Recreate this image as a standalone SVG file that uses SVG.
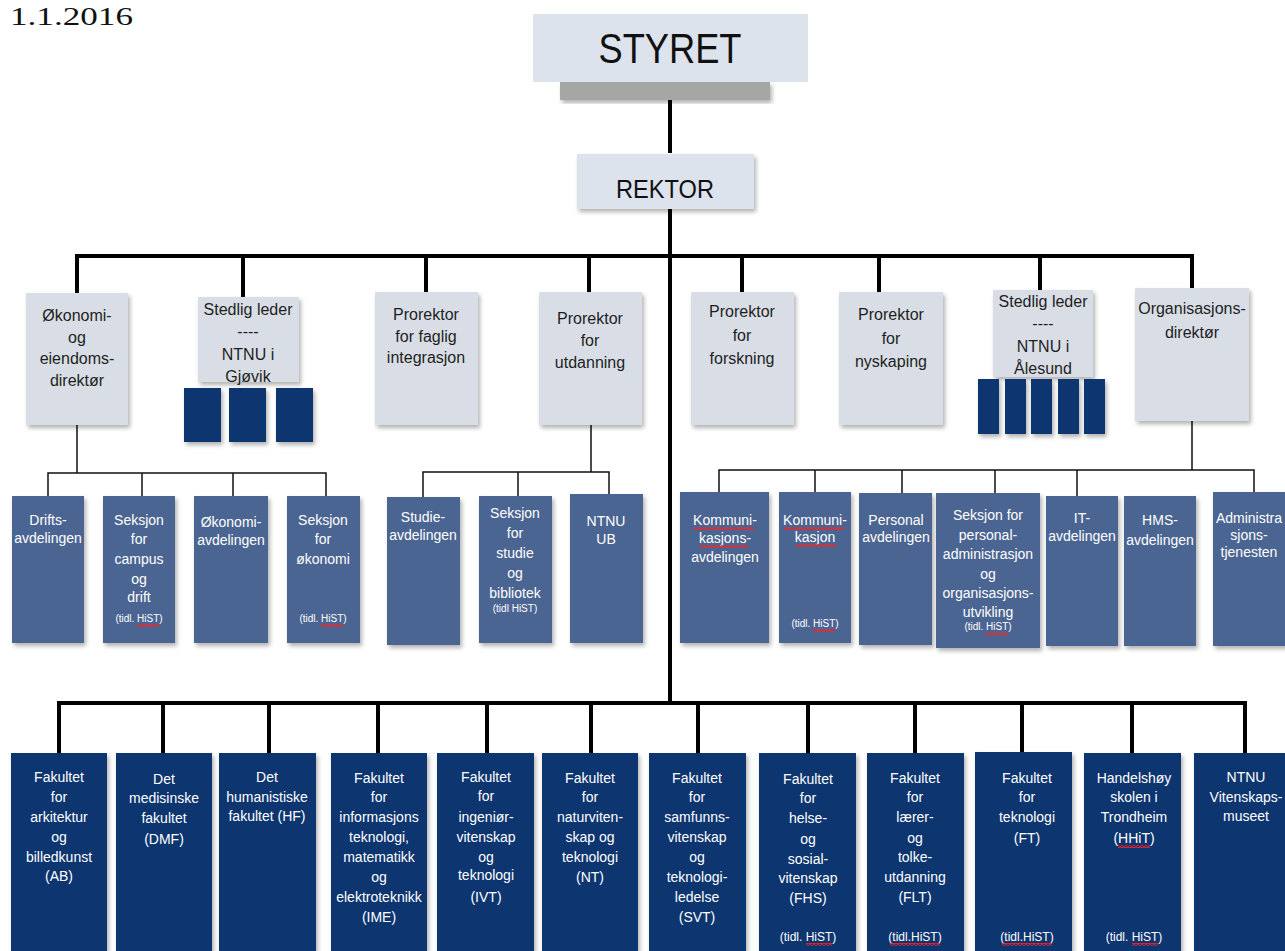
<svg xmlns="http://www.w3.org/2000/svg" width="1285" height="951" viewBox="0 0 1285 951">
<defs>
<filter id="sh" x="-10%" y="-10%" width="130%" height="130%"><feDropShadow dx="2" dy="3" stdDeviation="2" flood-color="#000" flood-opacity="0.3"/></filter>
<pattern id="sq" width="4" height="3" patternUnits="userSpaceOnUse"><path d="M0,0.5 L2,2.5 L4,0.5" fill="none" stroke="#ff2020" stroke-width="1.2"/></pattern>
</defs>
<style>
text{font-family:"Liberation Sans",Arial,sans-serif;text-anchor:middle}
.top{fill:#dce3ed;filter:url(#sh)}
.l2{fill:#d9dee6;filter:url(#sh)}
.l3{fill:#4b6592;filter:url(#sh)}
.fac{fill:#0f3470;filter:url(#sh)}
.sm{fill:#0f3470;filter:url(#sh)}
.t2{font-size:16px;fill:#1e1e1e}
.t3{font-size:14px;fill:#fff}
.t3s{font-size:10px;fill:#fff}
.tb{font-size:14px;fill:#fff}
.tbs{font-size:12px;fill:#fff}
.thick{stroke:#000;stroke-width:4;fill:none}
.thin{stroke:#111;stroke-width:1.5;fill:none}
.sq{fill:url(#sq)}
</style>
<rect width="1285" height="951" fill="#fff"/>
<text x="10" y="25" style="font-family:'Liberation Serif',serif;font-size:26px;text-anchor:start;fill:#111" textLength="123" lengthAdjust="spacingAndGlyphs">1.1.2016</text>

<g id="connectors">
<path class="thick" d="M670,100 V153 M670,209 V703"/>
<path class="thick" d="M77,293 V256 H1192 V288 M243,256 V297 M426,256 V292 M589,256 V292 M742,256 V292 M879,256 V292 M1040,256 V290"/>
<path class="thin" d="M77,425 V473 M48,496 V473 H326 V496 M142,473 V496 M233,473 V496"/>
<path class="thin" d="M591,425 V472 M423,497 V472 H609 V494 M518,472 V496"/>
<path class="thin" d="M1192,421 V470 M719,492 V470 H1254 V492 M815,470 V492 M902,470 V493 M995,470 V493 M1077,470 V496"/>
<path class="thick" d="M59,753 V703 H1245 V753 M163,703 V753 M269,703 V753 M378,703 V753 M487,703 V753 M591,703 V753 M698,703 V753 M808,703 V753 M915,703 V753 M1022,703 V753 M1132,703 V753"/>
</g>

<g id="styret">
<rect x="560" y="82" width="210" height="18" fill="#a6a6a6" filter="url(#sh)"/>
<rect class="top" x="533" y="14" width="275" height="68" style="filter:none"/>
<text x="670" y="63" style="font-size:42px;fill:#111" textLength="143" lengthAdjust="spacingAndGlyphs">STYRET</text>
</g>
<g id="rektor">
<rect class="top" x="577" y="154" width="177" height="55"/>
<text x="665" y="198" style="font-size:25px;fill:#111" textLength="98" lengthAdjust="spacingAndGlyphs">REKTOR</text>
</g>

<g id="okonomidirektor">
<rect class="l2" x="26" y="293" width="102" height="132"/>
<text class="t2" x="77" y="321">Økonomi-</text><text class="t2" x="77" y="343">og</text><text class="t2" x="77" y="364">eiendoms-</text><text class="t2" x="77" y="386">direktør</text>
</g>
<g id="gjovik">
<rect class="l2" x="198" y="297" width="101" height="85"/>
<text class="t2" x="248" y="315">Stedlig leder</text><text class="t2" x="248" y="337">----</text><text class="t2" x="248" y="360">NTNU i</text><text class="t2" x="248" y="382">Gjøvik</text>
<rect class="sm" x="184" y="388" width="37" height="54"/><rect class="sm" x="229" y="388" width="37" height="54"/><rect class="sm" x="276" y="388" width="37" height="54"/>
</g>
<g id="faglig">
<rect class="l2" x="375" y="292" width="103" height="133"/>
<text class="t2" x="426" y="320">Prorektor</text><text class="t2" x="426" y="342">for faglig</text><text class="t2" x="426" y="363">integrasjon</text>
</g>
<g id="utdanning">
<rect class="l2" x="539" y="292" width="103" height="133"/>
<text class="t2" x="590" y="324">Prorektor</text><text class="t2" x="590" y="346">for</text><text class="t2" x="590" y="368">utdanning</text>
</g>
<g id="forskning">
<rect class="l2" x="691" y="292" width="103" height="133"/>
<text class="t2" x="742" y="317">Prorektor</text><text class="t2" x="742" y="341">for</text><text class="t2" x="742" y="364">forskning</text>
</g>
<g id="nyskaping">
<rect class="l2" x="839" y="292" width="104" height="133"/>
<text class="t2" x="891" y="320">Prorektor</text><text class="t2" x="891" y="344">for</text><text class="t2" x="891" y="367">nyskaping</text>
</g>
<g id="alesund">
<rect class="l2" x="993" y="290" width="100" height="87"/>
<text class="t2" x="1043" y="307">Stedlig leder</text><text class="t2" x="1043" y="329">----</text><text class="t2" x="1043" y="352">NTNU i</text><text class="t2" x="1043" y="374">Ålesund</text>
<rect class="sm" x="978" y="379" width="21" height="55"/><rect class="sm" x="1005" y="379" width="21" height="55"/><rect class="sm" x="1031" y="379" width="21" height="55"/><rect class="sm" x="1058" y="379" width="21" height="55"/><rect class="sm" x="1084" y="379" width="21" height="55"/>
</g>
<g id="organisasjonsdirektor">
<rect class="l2" x="1135" y="288" width="114" height="133"/>
<text class="t2" x="1192" y="314">Organisasjons-</text><text class="t2" x="1192" y="338">direktør</text>
</g>

<g id="driftsavdelingen">
<rect class="l3" x="12" y="496" width="72" height="147"/>
<text class="t3" x="48" y="525">Drifts-</text><text class="t3" x="48" y="543">avdelingen</text>
</g>
<g id="campus">
<rect class="l3" x="103" y="496" width="72" height="147"/>
<text class="t3" x="139" y="525">Seksjon</text><text class="t3" x="139" y="544">for</text><text class="t3" x="139" y="564">campus</text><text class="t3" x="139" y="584">og</text><text class="t3" x="139" y="602">drift</text><text class="t3s" x="139" y="622">(tidl. HiST)</text>
<rect class="sq" x="137" y="624" width="22" height="3"/>
</g>
<g id="okonomiavdelingen">
<rect class="l3" x="194" y="496" width="74" height="147"/>
<text class="t3" x="231" y="527">Økonomi-</text><text class="t3" x="231" y="545">avdelingen</text>
</g>
<g id="seksjonokonomi">
<rect class="l3" x="287" y="496" width="73" height="147"/>
<text class="t3" x="323" y="525">Seksjon</text><text class="t3" x="323" y="544">for</text><text class="t3" x="323" y="564">økonomi</text><text class="t3s" x="323" y="622">(tidl. HiST)</text>
<rect class="sq" x="321" y="624" width="22" height="3"/>
</g>
<g id="studieavdelingen">
<rect class="l3" x="387" y="497" width="73" height="148"/>
<text class="t3" x="423" y="522">Studie-</text><text class="t3" x="423" y="540">avdelingen</text>
</g>
<g id="studiebibliotek">
<rect class="l3" x="479" y="496" width="73" height="147"/>
<text class="t3" x="515" y="518">Seksjon</text><text class="t3" x="515" y="538">for</text><text class="t3" x="515" y="558">studie</text><text class="t3" x="515" y="578">og</text><text class="t3" x="515" y="598">bibliotek</text><text class="t3s" x="515" y="612">(tidl HiST)</text>
</g>
<g id="ntnuub">
<rect class="l3" x="570" y="494" width="73" height="149"/>
<text class="t3" x="606" y="526">NTNU</text><text class="t3" x="606" y="544">UB</text>
</g>
<g id="kommunikasjonsavdelingen">
<rect class="l3" x="680" y="492" width="89" height="151"/>
<text class="t3" x="725" y="525">Kommuni-</text><text class="t3" x="725" y="543">kasjons-</text><text class="t3" x="725" y="562">avdelingen</text>
<rect class="sq" x="694" y="527" width="60" height="3"/><rect class="sq" x="700" y="545" width="48" height="3"/>
</g>
<g id="kommunikasjon">
<rect class="l3" x="779" y="492" width="72" height="151"/>
<text class="t3" x="815" y="525">Kommuni-</text><text class="t3" x="815" y="542">kasjon</text><text class="t3s" x="815" y="627">(tidl. HiST)</text>
<rect class="sq" x="784" y="527" width="60" height="3"/><rect class="sq" x="796" y="544" width="40" height="3"/><rect class="sq" x="813" y="629" width="22" height="3"/>
</g>
<g id="personalavdelingen">
<rect class="l3" x="859" y="493" width="73" height="152"/>
<text class="t3" x="896" y="525">Personal</text><text class="t3" x="896" y="542">avdelingen</text>
</g>
<g id="personaladministrasjon">
<rect class="l3" x="936" y="493" width="104" height="155"/>
<text class="t3" x="988" y="520">Seksjon for</text><text class="t3" x="988" y="540">personal-</text><text class="t3" x="988" y="559">administrasjon</text><text class="t3" x="988" y="579">og</text><text class="t3" x="988" y="598">organisasjons-</text><text class="t3" x="988" y="617">utvikling</text><text class="t3s" x="988" y="630">(tidl. HiST)</text>
<rect class="sq" x="986" y="632" width="22" height="3"/>
</g>
<g id="itavdelingen">
<rect class="l3" x="1046" y="496" width="72" height="150"/>
<text class="t3" x="1082" y="523">IT-</text><text class="t3" x="1082" y="541">avdelingen</text>
</g>
<g id="hmsavdelingen">
<rect class="l3" x="1124" y="496" width="72" height="150"/>
<text class="t3" x="1160" y="525">HMS-</text><text class="t3" x="1160" y="545">avdelingen</text>
</g>
<g id="administrasjonstjenesten">
<rect class="l3" x="1213" y="492" width="75" height="154"/>
<text class="t3" x="1249" y="523">Administra</text><text class="t3" x="1249" y="540">sjons-</text><text class="t3" x="1249" y="557">tjenesten</text>
</g>

<g id="ab">
<rect class="fac" x="11" y="753" width="96" height="200"/>
<text class="tb" x="59" y="782">Fakultet</text><text class="tb" x="59" y="802">for</text><text class="tb" x="59" y="822">arkitektur</text><text class="tb" x="59" y="842">og</text><text class="tb" x="59" y="862">billedkunst</text><text class="tb" x="59" y="881">(AB)</text>
</g>
<g id="dmf">
<rect class="fac" x="116" y="753" width="96" height="200"/>
<text class="tb" x="164" y="784">Det</text><text class="tb" x="164" y="803">medisinske</text><text class="tb" x="164" y="823">fakultet</text><text class="tb" x="164" y="844">(DMF)</text>
</g>
<g id="hf">
<rect class="fac" x="219" y="753" width="97" height="200"/>
<text class="tb" x="267" y="782">Det</text><text class="tb" x="267" y="802">humanistiske</text><text class="tb" x="267" y="821">fakultet (HF)</text>
</g>
<g id="ime">
<rect class="fac" x="331" y="753" width="96" height="200"/>
<text class="tb" x="379" y="783">Fakultet</text><text class="tb" x="379" y="802">for</text><text class="tb" x="379" y="822">informasjons</text><text class="tb" x="379" y="842">teknologi,</text><text class="tb" x="379" y="862">matematikk</text><text class="tb" x="379" y="882">og</text><text class="tb" x="379" y="902">elektroteknikk</text><text class="tb" x="379" y="922">(IME)</text>
</g>
<g id="ivt">
<rect class="fac" x="437" y="753" width="97" height="200"/>
<text class="tb" x="486" y="782">Fakultet</text><text class="tb" x="486" y="801">for</text><text class="tb" x="486" y="822">ingeniør-</text><text class="tb" x="486" y="842">vitenskap</text><text class="tb" x="486" y="862">og</text><text class="tb" x="486" y="880">teknologi</text><text class="tb" x="486" y="902">(IVT)</text>
</g>
<g id="nt">
<rect class="fac" x="542" y="753" width="96" height="200"/>
<text class="tb" x="590" y="783">Fakultet</text><text class="tb" x="590" y="802">for</text><text class="tb" x="590" y="822">naturviten-</text><text class="tb" x="590" y="842">skap og</text><text class="tb" x="590" y="862">teknologi</text><text class="tb" x="590" y="882">(NT)</text>
</g>
<g id="svt">
<rect class="fac" x="649" y="753" width="97" height="200"/>
<text class="tb" x="697" y="783">Fakultet</text><text class="tb" x="697" y="802">for</text><text class="tb" x="697" y="822">samfunns-</text><text class="tb" x="697" y="842">vitenskap</text><text class="tb" x="697" y="862">og</text><text class="tb" x="697" y="882">teknologi-</text><text class="tb" x="697" y="902">ledelse</text><text class="tb" x="697" y="922">(SVT)</text>
</g>
<g id="fhs">
<rect class="fac" x="759" y="753" width="97" height="200"/>
<text class="tb" x="808" y="784">Fakultet</text><text class="tb" x="808" y="803">for</text><text class="tb" x="808" y="823">helse-</text><text class="tb" x="808" y="844">og</text><text class="tb" x="808" y="864">sosial-</text><text class="tb" x="808" y="883">vitenskap</text><text class="tb" x="808" y="903">(FHS)</text><text class="tbs" x="808" y="941">(tidl. HiST)</text>
<rect class="sq" x="806" y="943" width="26" height="3"/>
</g>
<g id="flt">
<rect class="fac" x="867" y="753" width="97" height="200"/>
<text class="tb" x="915" y="783">Fakultet</text><text class="tb" x="915" y="802">for</text><text class="tb" x="915" y="822">lærer-</text><text class="tb" x="915" y="843">og</text><text class="tb" x="915" y="862">tolke-</text><text class="tb" x="915" y="882">utdanning</text><text class="tb" x="915" y="902">(FLT)</text><text class="tbs" x="915" y="941">(tidl.HiST)</text>
<rect class="sq" x="890" y="943" width="50" height="3"/>
</g>
<g id="ft">
<rect class="fac" x="975" y="752" width="97" height="201"/>
<text class="tb" x="1027" y="783">Fakultet</text><text class="tb" x="1027" y="802">for</text><text class="tb" x="1027" y="822">teknologi</text><text class="tb" x="1027" y="843">(FT)</text><text class="tbs" x="1027" y="941">(tidl.HiST)</text>
<rect class="sq" x="1002" y="943" width="50" height="3"/>
</g>
<g id="hhit">
<rect class="fac" x="1084" y="753" width="97" height="200"/>
<text class="tb" x="1134" y="783">Handelshøy</text><text class="tb" x="1134" y="802">skolen i</text><text class="tb" x="1134" y="822">Trondheim</text><text class="tb" x="1134" y="843">(HHiT)</text><text class="tbs" x="1134" y="941">(tidl. HiST)</text>
<rect class="sq" x="1118" y="845" width="32" height="3"/><rect class="sq" x="1132" y="943" width="26" height="3"/>
</g>
<g id="vitenskapsmuseet">
<rect class="fac" x="1194" y="753" width="96" height="200"/>
<text class="tb" x="1246" y="782">NTNU</text><text class="tb" x="1246" y="802">Vitenskaps-</text><text class="tb" x="1246" y="821">museet</text>
</g>
</svg>
